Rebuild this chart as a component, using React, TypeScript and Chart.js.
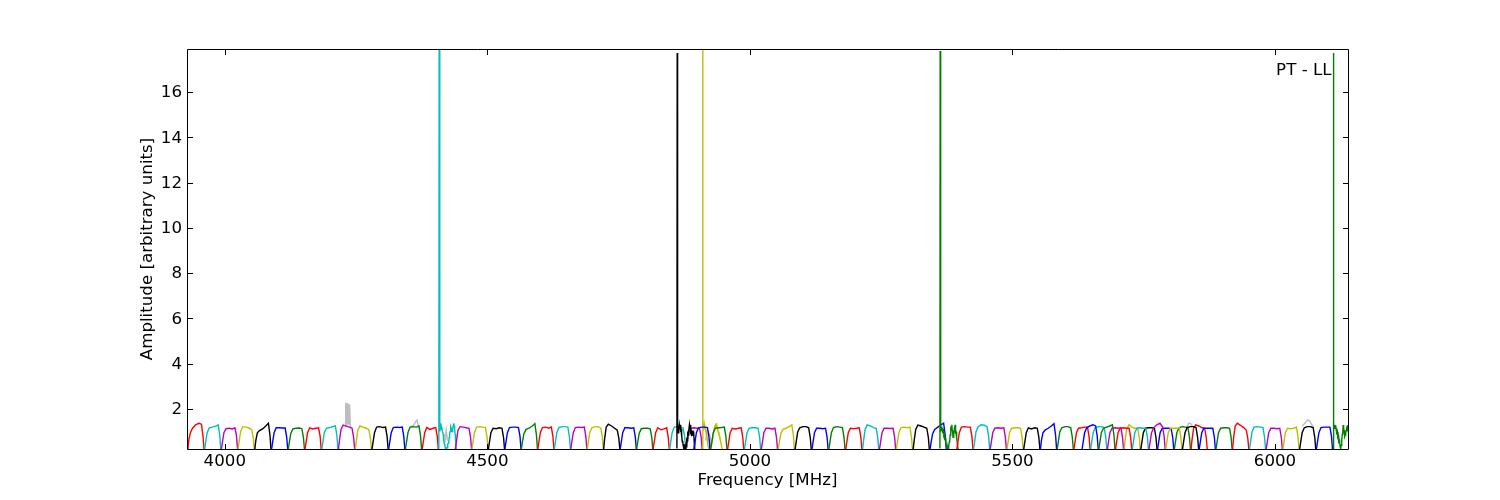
import React, { useEffect, useRef } from 'react';
import { Chart, registerables } from 'chart.js';

Chart.register(...registerables);

// ---------- axis ranges & labels ----------
const X_MIN = 3928;
const X_MAX = 6139;
const Y_MIN = 0.233;
const Y_MAX = 17.9;
const X_TICKS = [4000, 4500, 5000, 5500, 6000];
const Y_TICKS = [2, 4, 6, 8, 10, 12, 14, 16];
const X_TITLE = 'Frequency [MHz]';
const Y_TITLE = 'Amplitude [arbitrary units]';
const PANEL_LABEL = 'PT - LL';

// matplotlib classic colour cycle
const COLOR_CYCLE = ['b', 'g', 'r', 'c', 'm', 'y', 'k'];
const COLOR_HEX: Record<string, string> = {
  b: '#0000ff', g: '#008000', r: '#ff0000', c: '#00bfbf', m: '#bf00bf', y: '#bfbf00', k: '#000000',
};
const GREY = '#bdbdbd';

// channel offsets (MHz from window start) for an ordinary spectral window
const CHANNEL_OFFSETS = [0, 2, 5, 9, 15, 21, 26, 29, 31];

// ---------- segment A (starts red) ----------
const SEG_A_FIRST_COLOR = 2;
const SEG_A_STARTS = [3929.5, 3961.4, 3993.3, 4025.1, 4057.0, 4088.9, 4120.7, 4152.6, 4184.5, 4216.3, 4248.2, 4280.1, 4311.9, 4343.8, 4375.7, 4407.6,
  4439.0, 4470.4, 4501.8, 4533.2, 4564.5, 4595.9, 4627.3, 4658.6, 4690.0, 4721.4, 4752.8, 4784.1, 4815.5, 4846.9, 4878.2, 4909.6];
const SEG_A_VALUES: (number[] | null)[] = [
  [0.2, 0.65, 0.95, 1.15, 1.3, 1.37, 1.33, 0.8, 0.2],
  [0.2, 0.5, 0.95, 1.17, 1.2, 1.24, 1.29, 0.85, 0.2],
  [0.2, 0.5, 0.95, 1.13, 1.15, 1.12, 1.17, 0.8, 0.2],
  [0.2, 0.55, 1.0, 1.22, 1.2, 1.16, 1.1, 0.75, 0.2],
  [0.2, 0.6, 0.95, 1.05, 1.12, 1.25, 1.37, 0.85, 0.2],
  [0.2, 0.5, 0.95, 1.17, 1.17, 1.16, 1.16, 0.75, 0.2],
  [0.2, 0.5, 0.92, 1.12, 1.15, 1.16, 1.13, 0.75, 0.2],
  [0.2, 0.5, 0.95, 1.17, 1.12, 1.15, 1.17, 0.78, 0.2],
  [0.2, 0.5, 0.95, 1.15, 1.18, 1.22, 1.25, 0.82, 0.2],
  [0.2, 0.6, 1.1, 1.29, 1.24, 1.2, 1.15, 0.75, 0.2],
  [0.2, 0.55, 1.05, 1.25, 1.2, 1.15, 1.1, 0.72, 0.2],
  [0.2, 0.5, 0.95, 1.2, 1.22, 1.18, 1.2, 0.78, 0.2],
  [0.2, 0.5, 0.95, 1.18, 1.2, 1.18, 1.2, 0.78, 0.2],
  [0.2, 0.5, 0.95, 1.2, 1.22, 1.2, 1.25, 0.8, 0.2],
  [0.2, 0.5, 0.95, 1.18, 1.1, 1.15, 1.18, 0.78, 0.2],
  null,
  [0.2, 0.55, 1.05, 1.22, 1.2, 1.17, 1.15, 0.75, 0.2],
  [0.2, 0.5, 0.95, 1.2, 1.22, 1.2, 1.18, 0.75, 0.2],
  [0.2, 0.5, 0.95, 1.15, 1.13, 1.17, 1.15, 0.75, 0.2],
  [0.2, 0.5, 0.95, 1.18, 1.2, 1.2, 1.18, 0.78, 0.2],
  [0.2, 0.5, 0.9, 1.1, 1.15, 1.25, 1.35, 0.85, 0.2],
  [0.2, 0.5, 0.95, 1.18, 1.2, 1.15, 1.2, 0.78, 0.2],
  [0.2, 0.5, 0.95, 1.18, 1.22, 1.22, 1.2, 0.78, 0.2],
  [0.2, 0.5, 0.95, 1.18, 1.2, 1.18, 1.2, 0.78, 0.2],
  [0.2, 0.5, 0.95, 1.17, 1.22, 1.22, 1.15, 0.75, 0.2],
  [0.2, 0.7, 1.2, 1.33, 1.25, 1.15, 1.07, 0.7, 0.2],
  [0.2, 0.5, 0.95, 1.17, 1.17, 1.15, 1.17, 0.75, 0.2],
  [0.2, 0.5, 0.92, 1.13, 1.15, 1.15, 1.12, 0.75, 0.2],
  [0.2, 0.5, 0.95, 1.17, 1.08, 1.12, 1.17, 0.75, 0.2],
  [0.2, 0.5, 0.95, 1.2, 1.22, 1.2, 1.15, 0.75, 0.2],
  [0.2, 0.5, 0.95, 1.15, 1.17, 1.15, 1.12, 0.75, 0.2],
  null,
];
const A15_OFFSETS = [0, 0.6, 1.4, 2.2, 3, 3.8, 4.8, 5.8, 6.8, 7.6, 8.2, 9, 9.8, 10.6, 11.4, 12.2, 13, 13.8, 14.7, 15.6, 16.5, 17.4, 18.2, 19,
  19.8, 20.6, 21.4, 22.2, 22.9, 23.7, 24.5, 25.3, 26.1, 26.9, 27.8, 28.6, 29.4, 30.2, 31, 32, 33.3];
const A15_VALUES = [0.25, 17.95, 1.0, 1.2, 1.1, 1.37, 1.2, 1.15, 1.0, 0.95, 0.9, 0.75, 0.6, 0.45, 0.38, 0.3, 0.28, 0.25, 0.22, 0.3, 0.35, 0.45, 0.5, 0.6,
  0.75, 0.9, 1.0, 1.15, 1.22, 1.15, 1.1, 1.0, 1.05, 1.15, 1.3, 1.37, 1.25, 1.1, 0.9, 0.55, 0.2];
const A31_OFFSETS = [0, 0.4, 1, 1.8, 2.6, 3.5, 4.4, 5.3, 6.2, 7.1, 8, 8.9, 9.8, 10.7, 11.6, 12.5, 13.4, 14.3, 15.2, 16.1, 17, 17.9, 18.8, 19.7,
  20.6, 21.5, 22.4, 23.3, 24.2, 25.1, 26, 26.9, 27.8, 28.7, 29.6, 30.5, 31.4, 33, 35, 38];
const A31_VALUES = [0.25, 17.9, 1.0, 1.2, 1.1, 1.33, 1.2, 1.15, 1.05, 1.0, 0.93, 0.7, 0.5, 0.35, 0.3, 0.25, 0.22, 0.3, 0.35, 0.45, 0.5, 0.6, 0.7, 0.85,
  0.95, 1.05, 1.15, 1.22, 1.2, 1.3, 1.35, 1.37, 1.2, 1.15, 1.07, 1.0, 0.9, 0.8, 0.5, 0.2];

// ---------- segment B (starts black) ----------
const SEG_B_FIRST_COLOR = 6;
const SEG_B_STARTS = [4861.0, 4893.1, 4925.3, 4957.4, 4989.5, 5021.6, 5053.8, 5085.9, 5118.0, 5150.2, 5182.3, 5214.4, 5246.6, 5278.7, 5310.8, 5342.9];
const SEG_B_VALUES: (number[] | null)[] = [
  null,
  [0.2, 0.5, 0.95, 1.17, 1.2, 1.2, 1.18, 0.75, 0.2],
  [0.2, 0.5, 0.95, 1.15, 1.17, 1.18, 1.2, 0.78, 0.2],
  [0.2, 0.5, 0.95, 1.15, 1.12, 1.15, 1.17, 0.75, 0.2],
  [0.2, 0.5, 0.95, 1.15, 1.18, 1.17, 1.15, 0.75, 0.2],
  [0.2, 0.5, 0.95, 1.15, 1.15, 1.12, 1.15, 0.75, 0.2],
  [0.2, 0.5, 0.9, 1.1, 1.15, 1.22, 1.3, 0.85, 0.2],
  [0.2, 0.5, 0.98, 1.17, 1.22, 1.22, 1.17, 0.75, 0.2],
  [0.2, 0.5, 0.95, 1.15, 1.15, 1.13, 1.15, 0.75, 0.2],
  [0.2, 0.5, 0.95, 1.18, 1.22, 1.2, 1.18, 0.75, 0.2],
  [0.2, 0.5, 0.95, 1.15, 1.13, 1.15, 1.17, 0.75, 0.2],
  [0.2, 0.6, 1.1, 1.3, 1.25, 1.18, 1.15, 0.75, 0.2],
  [0.2, 0.5, 0.95, 1.15, 1.15, 1.14, 1.15, 0.75, 0.2],
  [0.2, 0.5, 0.95, 1.18, 1.2, 1.17, 1.2, 0.75, 0.2],
  [0.2, 0.6, 1.1, 1.29, 1.25, 1.2, 1.15, 0.75, 0.2],
  [0.2, 0.5, 0.9, 1.1, 1.2, 1.3, 1.37, 0.85, 0.2],
];
const B0_OFFSETS = [0, 0.5, 1.0, 1.6, 2.3, 3.0, 3.8, 4.6, 5.4, 6.2, 7.0, 7.8, 8.6, 9.4, 10.2, 11, 11.8, 12.6, 13.4, 14.2, 15, 15.8, 16.6, 17.4,
  18.2, 19, 19.8, 20.6, 21.4, 22.2, 23, 23.8, 24.6, 25.4, 26.2, 27, 27.8, 28.6, 29.4, 30.2, 31, 31.8, 32.6, 33.4, 34.3];
const B0_VALUES = [0.25, 17.72, 1.0, 1.25, 0.95, 1.2, 1.05, 1.3, 1.15, 1.3, 1.0, 1.1, 0.8, 0.85, 0.55, 0.6, 0.4, 0.45, 0.28, 0.35, 0.23, 0.3, 0.25, 0.45,
  0.4, 0.65, 0.6, 0.9, 0.85, 1.1, 1.05, 1.3, 1.15, 1.3, 1.0, 1.05, 0.8, 0.95, 0.85, 1.05, 0.95, 1.0, 0.7, 0.45, 0.22];

// ---------- segment C (starts green) ----------
const SEG_C_FIRST_COLOR = 1;
const SEG_C_STARTS = [5361.9, 5393.8, 5425.6, 5457.5, 5489.4, 5521.3, 5553.1, 5585.0, 5616.9, 5648.7, 5680.6, 5712.5, 5744.3, 5776.2, 5808.1, 5840.0];
const SEG_C_VALUES: (number[] | null)[] = [
  null,
  [0.2, 0.5, 0.95, 1.2, 1.22, 1.2, 1.2, 0.78, 0.2],
  [0.2, 0.5, 1.0, 1.22, 1.3, 1.28, 1.22, 0.8, 0.2],
  [0.2, 0.5, 0.95, 1.15, 1.17, 1.15, 1.17, 0.75, 0.2],
  [0.2, 0.5, 0.95, 1.15, 1.17, 1.17, 1.15, 0.75, 0.2],
  [0.2, 0.5, 0.95, 1.17, 1.12, 1.17, 1.15, 0.75, 0.2],
  [0.2, 0.6, 0.95, 1.07, 1.15, 1.25, 1.35, 0.85, 0.2],
  [0.2, 0.5, 0.98, 1.17, 1.22, 1.22, 1.17, 0.75, 0.2],
  [0.2, 0.5, 0.95, 1.15, 1.17, 1.2, 1.2, 0.78, 0.2],
  [0.2, 0.5, 0.95, 1.18, 1.22, 1.22, 1.18, 0.75, 0.2],
  [0.2, 0.5, 0.95, 1.15, 1.17, 1.15, 1.17, 0.75, 0.2],
  [0.2, 0.6, 1.1, 1.3, 1.2, 1.15, 1.15, 0.75, 0.2],
  [0.2, 0.5, 0.95, 1.15, 1.17, 1.17, 1.15, 0.75, 0.2],
  [0.2, 0.5, 0.95, 1.15, 1.15, 1.15, 1.13, 0.75, 0.2],
  [0.2, 0.5, 0.95, 1.17, 1.22, 1.2, 1.18, 0.75, 0.2],
  [0.2, 0.65, 1.15, 1.3, 1.25, 1.17, 1.15, 0.75, 0.2],
];
const C0_OFFSETS = [0, 0.4, 1.0, 1.8, 2.6, 3.4, 4.2, 5.0, 5.8, 6.6, 7.4, 8.2, 9.0, 9.8, 10.6, 11.4, 12.2, 13, 13.8, 14.6, 15.4, 16.2, 17, 17.8,
  18.6, 19.4, 20.2, 21, 21.8, 22.6, 23.4, 24.2, 25, 25.8, 26.6, 27.4, 28.2, 29, 29.8, 30.6, 31.4, 32.2, 33, 33.8, 34.9];
const C0_VALUES = [0.25, 17.81, 1.0, 1.25, 1.1, 1.22, 1.05, 1.15, 1.0, 1.05, 0.85, 0.9, 0.7, 0.72, 0.5, 0.55, 0.35, 0.4, 0.25, 0.3, 0.22, 0.3, 0.35, 0.55,
  0.6, 0.85, 0.9, 1.15, 1.1, 1.3, 1.05, 0.95, 0.75, 0.9, 0.85, 1.1, 1.05, 1.3, 1.1, 1.0, 0.8, 0.7, 0.5, 0.35, 0.22];

// ---------- segment D (starts blue) ----------
const SEG_D_FIRST_COLOR = 0;
const SEG_D_STARTS = [5632.4, 5664.3, 5696.1, 5728.0, 5759.9, 5791.7, 5823.6, 5855.5, 5887.4, 5919.2, 5951.1, 5983.0, 6014.8, 6046.7, 6078.6, 6110.5];
const SEG_D_VALUES: (number[] | null)[] = [
  [0.2, 0.5, 0.95, 1.17, 1.25, 1.3, 1.25, 0.8, 0.2],
  [0.2, 0.5, 0.95, 1.15, 1.2, 1.25, 1.3, 0.85, 0.2],
  [0.2, 0.5, 0.95, 1.15, 1.17, 1.15, 1.15, 0.75, 0.2],
  [0.2, 0.5, 0.95, 1.15, 1.17, 1.15, 1.15, 0.75, 0.2],
  [0.2, 0.5, 0.95, 1.17, 1.3, 1.37, 1.2, 0.78, 0.2],
  [0.2, 0.5, 0.95, 1.15, 1.15, 1.15, 1.17, 0.75, 0.2],
  [0.2, 0.5, 0.95, 1.18, 1.22, 1.22, 1.18, 0.75, 0.2],
  [0.2, 0.5, 0.95, 1.15, 1.15, 1.15, 1.15, 0.75, 0.2],
  [0.2, 0.5, 0.95, 1.15, 1.17, 1.17, 1.15, 0.75, 0.2],
  [0.2, 0.75, 1.25, 1.37, 1.28, 1.18, 1.07, 0.7, 0.2],
  [0.2, 0.5, 0.98, 1.2, 1.22, 1.2, 1.18, 0.75, 0.2],
  [0.2, 0.5, 0.95, 1.15, 1.15, 1.13, 1.15, 0.75, 0.2],
  [0.2, 0.5, 0.95, 1.15, 1.13, 1.15, 1.2, 0.78, 0.2],
  [0.2, 0.5, 0.95, 1.17, 1.22, 1.22, 1.17, 0.75, 0.2],
  [0.2, 0.5, 0.95, 1.18, 1.2, 1.2, 1.2, 0.78, 0.2],
  null,
];
const D15_OFFSETS = [0, 0.4, 1.0, 1.8, 2.6, 3.4, 4.2, 5.0, 5.8, 6.6, 7.4, 8.2, 9.0, 9.8, 10.6, 11.4, 12.2, 13, 13.8, 14.6, 15.4, 16.2, 17, 17.8,
  18.6, 19.4, 20.2, 21, 21.8, 22.6, 23.4, 24.2, 25, 25.8, 26.6, 27.4, 28.2, 29, 30];
const D15_VALUES = [0.25, 17.72, 1.1, 1.3, 1.15, 1.3, 1.2, 1.28, 1.1, 1.15, 0.95, 1.0, 0.8, 0.85, 0.6, 0.65, 0.45, 0.5, 0.3, 0.26, 0.4, 0.6, 0.65, 0.9,
  1.0, 1.29, 1.15, 1.05, 0.95, 0.78, 0.85, 0.95, 1.05, 1.15, 1.2, 1.29, 1.1, 1.0, 0.9];

// ---------- grey trace (visible only where it exceeds the coloured ones) ----------
const GREY_FREQS = [
  4229.5, 4230.2, 4231.0, 4231.8, 4232.6, 4233.4, 4234.2, 4235.0, 4235.8, 4236.6, 4237.4, 4238.2, 4239.0, 4300,
  4354.0, 4360.0, 4364.0, 4366.0, 4368.0, 4370.0, 4400,
  4419.0, 4421.7, 4424.0, 4900,
  4916.0, 4918.0, 4921.0, 4924.0, 4926.0, 5500,
  5832.0, 5836.0, 5840.0, 5843.0, 6000,
  6052.0, 6058.0, 6062.0, 6066.0, 6070.0, 6074.0,
];
const GREY_VALUES: (number | null)[] = [
  1.2, 2.28, 1.3, 2.26, 1.3, 2.25, 1.3, 2.22, 1.3, 2.2, 1.3, 2.15, 1.2, null,
  1.2, 1.3, 1.45, 1.51, 1.3, 1.15, null,
  0.5, 1.07, 0.6, null,
  0.6, 1.05, 1.0, 0.8, 0.5, null,
  1.2, 1.38, 1.35, 1.2, null,
  1.25, 1.4, 1.52, 1.48, 1.3, 1.2,
];

const FONT_FAMILY = '"DejaVu Sans", "Liberation Sans", sans-serif';
const FONT_SIZE = 16.67;

function lineDataset(xs: number[], ys: (number | null)[], color: string) {
  return {
    data: xs.map((x, i) => ({ x, y: ys[i] })),
    borderColor: color,
    backgroundColor: color,
    borderWidth: 1.4,
    pointRadius: 0,
    pointHoverRadius: 0,
    fill: false,
    tension: 0,
    spanGaps: false,
    clip: 0,
  };
}

function segmentDatasets(
  starts: number[],
  values: (number[] | null)[],
  firstColor: number,
  specials: Record<number, [number[], number[]]>,
) {
  return starts.map((start, i) => {
    const color = COLOR_HEX[COLOR_CYCLE[(firstColor + i) % COLOR_CYCLE.length]];
    const v = values[i];
    const [offs, vals] = v ? [CHANNEL_OFFSETS, v] : specials[i];
    return lineDataset(offs.map((o) => start + o), vals, color);
  });
}

const framePlugin = {
  id: 'mplFrame',
  afterDatasetsDraw(chart: any) {
    const { ctx, chartArea: a, scales } = chart;
    ctx.save();
    ctx.strokeStyle = '#000';
    ctx.lineWidth = 1;
    const L = Math.round(a.left) + 0.5;
    const R = Math.round(a.right) + 0.5;
    const T = Math.round(a.top) + 0.5;
    const B = Math.round(a.bottom) + 0.5;
    ctx.beginPath();
    ctx.rect(L, T, R - L, B - T);
    ctx.stroke();
    const tl = 5.5;
    ctx.beginPath();
    for (const t of scales.x.ticks) {
      const px = Math.round(scales.x.getPixelForValue(t.value)) + 0.5;
      ctx.moveTo(px, B); ctx.lineTo(px, B - tl);
      ctx.moveTo(px, T); ctx.lineTo(px, T + tl);
    }
    for (const t of scales.y.ticks) {
      const py = Math.round(scales.y.getPixelForValue(t.value)) + 0.5;
      ctx.moveTo(L, py); ctx.lineTo(L + tl, py);
      ctx.moveTo(R, py); ctx.lineTo(R - tl, py);
    }
    ctx.stroke();
    ctx.fillStyle = '#000';
    ctx.font = `${FONT_SIZE}px ${FONT_FAMILY}`;
    ctx.textAlign = 'right';
    ctx.textBaseline = 'alphabetic';
    ctx.fillText(PANEL_LABEL, a.right - 16.5, a.top + 26);
    ctx.restore();
  },
};

const fixedTicks = (values: number[]) => (s: any) => {
  s.ticks = values.map((value) => ({ value }));
};

export default function App() {
  const ref = useRef<HTMLCanvasElement>(null);
  useEffect(() => {
    const canvas = ref.current;
    if (!canvas) return;
    // matplotlib order: grey first, then the segments; later drawn on top
    const mplOrder = [
      lineDataset(GREY_FREQS, GREY_VALUES, GREY),
      ...segmentDatasets(SEG_A_STARTS, SEG_A_VALUES, SEG_A_FIRST_COLOR, { 15: [A15_OFFSETS, A15_VALUES], 31: [A31_OFFSETS, A31_VALUES] }),
      ...segmentDatasets(SEG_B_STARTS, SEG_B_VALUES, SEG_B_FIRST_COLOR, { 0: [B0_OFFSETS, B0_VALUES] }),
      ...segmentDatasets(SEG_C_STARTS, SEG_C_VALUES, SEG_C_FIRST_COLOR, { 0: [C0_OFFSETS, C0_VALUES] }),
      ...segmentDatasets(SEG_D_STARTS, SEG_D_VALUES, SEG_D_FIRST_COLOR, { 15: [D15_OFFSETS, D15_VALUES] }),
    ];
    const datasets = mplOrder.slice().reverse();
    const font = { family: FONT_FAMILY, size: FONT_SIZE, lineHeight: 1.2 };
    const chart = new Chart(canvas, {
      type: 'line',
      data: { datasets: datasets as any },
      options: {
        animation: false,
        responsive: false,
        devicePixelRatio: 1,
        events: [],
        layout: { padding: { left: 0, top: 49, right: 152, bottom: 0 } },
        plugins: { legend: { display: false }, tooltip: { enabled: false } },
        scales: {
          x: {
            type: 'linear',
            min: X_MIN,
            max: X_MAX,
            bounds: 'data',
            grid: { display: false, drawTicks: false },
            border: { display: false },
            ticks: {
              autoSkip: false,
              maxRotation: 0,
              padding: 3,
              color: '#000',
              font,
              callback: (v: any) => String(v),
            },
            afterBuildTicks: fixedTicks(X_TICKS),
            title: { display: true, text: X_TITLE, color: '#000', font, padding: { top: 0, bottom: 9 } },
            afterFit: (s: any) => { s.height = 51; },
          },
          y: {
            type: 'linear',
            min: Y_MIN,
            max: Y_MAX,
            bounds: 'data',
            grid: { display: false, drawTicks: false },
            border: { display: false },
            ticks: {
              autoSkip: false,
              padding: 5,
              labelOffset: 1,
              color: '#000',
              font,
              callback: (v: any) => String(v),
            },
            afterBuildTicks: fixedTicks(Y_TICKS),
            title: { display: true, text: Y_TITLE, color: '#000', font, padding: { top: 138, bottom: 0 } },
            afterFit: (s: any) => { s.width = 187; },
          },
        },
      },
      plugins: [framePlugin],
    });
    return () => chart.destroy();
  }, []);
  return (
    <div style={{ position: 'absolute', left: 0, top: 0, width: 1500, height: 500, background: '#fff' }}>
      <canvas ref={ref} width={1500} height={500} style={{ display: 'block', width: 1500, height: 500 }} />
    </div>
  );
}
